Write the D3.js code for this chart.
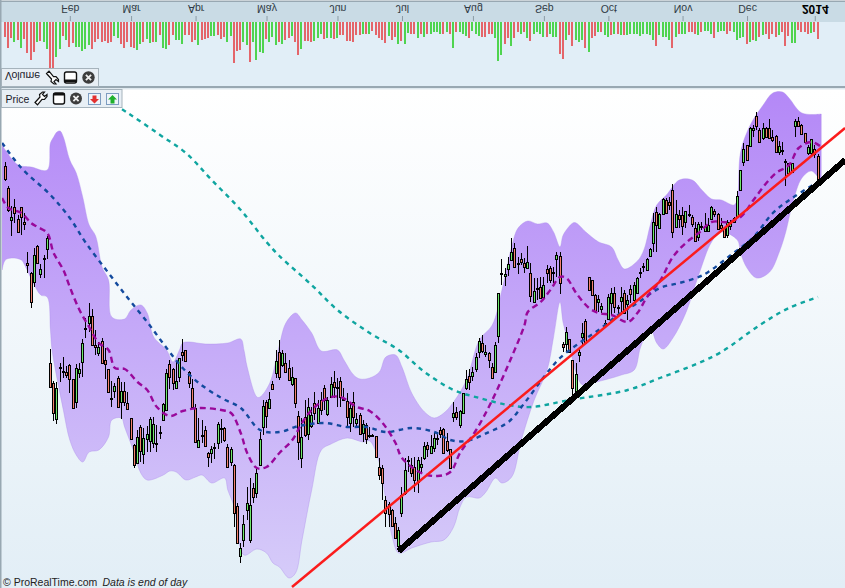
<!DOCTYPE html>
<html>
<head>
<meta charset="utf-8">
<script src="https://cdn.jsdelivr.net/npm/d3@7"></script>
<style>
    html, body { margin: 0; padding: 0; background: #fff; overflow: hidden; }
    text { font-family: "Liberation Sans", Arial, sans-serif; }
</style>
</head>
<body>
<div id="chart"></div>
<script>
// candles, one entry per session
const opens = [
    422,400,368,381,369,381,366,325,315,306, 342,314,330,339,225,205,169,221,217,216,
    223,209,186,215,226,260,265,272,243,235, 247,228,219,190,197,210,186,197,185,170,
    143,125,161,134,149,147,145,145,156,168, 178,224,219,200,211,236,238,216,200,180,
    141,153,158,135,135,140,145,160,160,141, 126,123,82,32,48,78,48,100,95,123,
    161,186,180,204,215,236,223,225,220,204, 210,172,130,171,154,162,185,165,188,200,
    174,191,206,201,207,189,187,165,186,165, 173,155,163,153,153,152,121,120,88,84,
    78,65,42,75,95,128,123,121,106,121, 130,143,135,140,150,158,159,147,139,171,
    176,163,175,200,212,212,219,236,245,234, 235,221,216,252,315,312,319,328,340,325,
    329,325,320,315,286,300,301,291,319,320, 316,329,332,244,244,249,228,195,233,251,
    267,311,308,293,286,279,265,269,285,295, 280,287,295,284,299,288,295,315,321,318,
    332,345,376,360,374,388,386,398,361,373, 373,366,374,371,360,351,362,357,357,369,
    377,374,363,360,353,362,370,371,398,426, 443,442,458,472,458,450,460,460,451,452,
    436,438,427,415,416,462,467,463,455,435, 435,439,432]
const closes = [
    409,378,371,375,356,371,364,323,286,333, 325,319,329,350,201,175,200,220,217,213,
    209,180,220,219,245,259,272,243,241,241, 225,224,196,189,202,181,197,186,179,149,
    123,151,137,150,154,169,164,145,156,184, 215,211,205,207,230,233,227,205,181,146,
    148,153,142,131,139,141,164,159,148,121, 139,75,45,40,64,85,83,91,115,149,
    182,172,189,199,227,211,235,216,208,211, 185,146,151,153,181,173,175,180,178,188,
    188,204,201,201,191,189,171,180,171,169, 154,164,149,153,153,131,113,105,75,74,
    62,50,58,93,118,128,115,108,128,124, 142,139,142,150,150,154,135,138,120,175,
    171,177,195,209,206,216,231,247,237,236, 228,210,243,295,314,314,324,336,321,324,
    326,321,326,292,297,299,290,303,315,308, 316,333,305,241,256,236,200,214,236,255,
    245,298,293,277,289,282,265,291,295,281, 281,291,275,288,294,303,310,316,322,329,
    339,366,363,374,389,375,383,356,374,369, 362,377,373,364,347,364,361,362,363,381,
    374,359,360,351,366,366,366,392,418,439, 428,460,460,462,446,460,451,450,448,436,
    442,438,427,425,425,467,462,454,446,441, 449,434,408]
const highs = [
    426,402,382,389,373,381,375,336,316,340, 343,324,333,352,239,207,206,225,231,222,
    224,209,224,225,249,270,285,279,258,246, 250,240,219,207,205,212,206,206,196,170,
    144,158,163,160,162,171,171,163,162,185, 219,228,220,226,230,249,238,217,209,184,
    170,168,162,136,142,145,166,169,161,144, 141,124,85,45,73,101,110,105,120,156,
    188,188,196,207,238,248,238,235,228,221, 210,177,170,188,190,181,196,188,196,203,
    191,211,217,210,211,200,195,185,196,175, 175,168,165,161,154,152,130,123,92,86,
    79,71,61,101,130,132,130,131,131,131, 146,146,153,155,156,161,160,155,139,186,
    181,178,195,218,219,221,235,250,253,243, 236,225,246,295,329,320,331,350,345,331,
    335,330,342,325,310,310,311,311,323,322, 321,336,336,246,261,249,228,225,241,265,
    269,311,308,294,293,285,268,294,300,301, 283,301,298,293,303,306,311,320,325,330,
    340,375,381,375,390,390,391,404,388,378, 381,377,383,373,366,366,366,375,370,382,
    379,375,370,361,368,368,371,397,418,445, 443,461,463,476,460,465,461,469,458,453,
    447,446,429,425,425,469,471,464,455,443, 449,443,434]
const lows = [
    407,376,352,365,355,353,358,315,280,301, 324,310,310,329,200,167,164,206,210,210,
    195,180,180,210,211,250,256,242,233,232, 224,209,196,181,190,180,169,182,178,148,
    120,124,126,124,136,136,140,136,149,167, 177,199,198,200,206,227,226,200,180,145,
    140,145,141,121,125,129,139,145,146,121, 122,61,44,25,41,68,45,85,90,122,
    153,160,179,198,210,208,221,215,207,202, 180,128,120,151,148,160,168,165,173,178,
    172,190,190,181,181,187,160,156,161,160, 153,146,144,150,152,130,108,88,61,61,
    61,49,36,71,93,116,111,96,95,115, 128,131,135,136,143,150,135,136,119,166,
    168,160,175,198,198,207,216,230,235,231, 220,209,215,245,303,302,312,327,320,314,
    323,315,320,286,285,288,289,290,305,305, 305,311,294,236,236,236,191,194,226,241,
    244,297,292,276,276,275,260,268,273,275, 273,276,274,268,285,286,294,310,316,317,
    331,336,336,360,373,374,378,350,360,360, 353,360,371,361,346,347,358,356,356,368,
    371,358,358,350,350,358,365,370,397,422, 427,441,451,458,445,448,450,450,446,435,
    433,433,402,415,415,451,461,453,446,433, 433,430,407]

// volume panel, R = down day, G = up day
const volumes = [
    15,26,16,20,18,26,17,31,38,30, 20,19,20,27,47,47,35,27,14,18,
    25,21,25,25,29,27,23,27,20,17, 20,19,21,20,14,16,22,26,20,25,
    26,28,22,20,17,21,20,20,13,26, 27,23,13,18,18,22,13,13,20,18,
    23,18,17,16,14,14,13,17,15,20, 14,41,29,28,20,23,40,20,38,30,
    31,17,20,15,23,20,22,18,16,14, 20,33,27,19,19,20,19,16,12,17,
    16,16,17,16,13,13,19,19,20,13, 13,12,12,12,9,13,16,18,21,14,
    18,15,22,19,22,11,12,12,16,12, 15,12,12,10,10,12,12,10,12,26,
    10,10,12,14,16,9,12,14,15,15, 12,12,16,39,33,22,16,24,16,10,
    12,10,16,19,12,10,12,15,15,12, 15,15,32,37,18,13,24,18,20,18,
    26,30,16,14,10,10,13,15,13,12, 12,13,13,13,12,12,12,14,12,12,
    13,18,24,13,15,15,18,26,15,12, 12,12,10,10,12,13,10,9,9,12,
    16,10,9,9,12,9,10,18,16,15, 22,20,18,19,15,13,12,17,12,15,
    13,10,24,14,21,21,8,10,10,12, 11,10,17]
const volumeDirs = ("RRRGRGRRRR" + "GRGGRRGGRG" + "RRGGGGGRRR" + "RRRRGGRRRR" + "RGGRGGRGRG" +
    "GRRGGGRRRR" + "GRRRGGRRRG" + "GRRRGGRGGG" + "GRGGGRGRRG" + "RRGRRRGGGR" +
    "GGRGRRRRRR" + "RGRGRRRRRG" + "RRGRGGRRGR" + "GRGGGGRGRG" + "RGGGRGGGRR" +
    "RRGGGRRGRR" + "GRGRGGGGRG" + "GGRRGRRGGG" + "RGRRGRGGRG" + "RGRGGGGGGG" +
    "GGRGGGGRGR" + "GGRRRGRGGG" + "RGGGRRGGGG" + "RGRGRGRRRR" + "GRRRGGRRRR" + "GRR").split("")

const monthBars = [20, 39, 59, 81, 103, 123, 145, 167, 187, 210, 230, 251]
const monthLabels = ["Feb", "Mar", "Apr", "May", "Jun", "Jul", "Aug", "Sep", "Oct", "Nov", "Dec", "2014"]

// Bollinger style envelope, read at the bends
const upperBars = [-1,0,4,8,13,14,15,16,17,18,20,22,24,26,28,30,32,33,37,39,42,44,46,50,52,54,55,57,62,69,73,74,75,78,79,82,85,87,90,92,95,98,103,105,108,110,113,116,118,121,123,126,130,133,136,139,143,147,151,154,157,159,162,165,168,170,172,173,176,177,180,184,188,190,192,196,198,200,202,205,209,213,216,219,222,226,227,228,231,235,238,241,243,247,253]
const upperBand = [443,438,423,421,418,445,451,456,457,451,428,415,391,363,352,321,308,271,269,278,283,275,251,238,226,238,245,246,244,245,249,238,221,191,191,205,243,265,275,268,255,237,238,228,213,209,210,216,231,233,221,195,176,170,175,186,208,248,263,298,341,360,367,364,365,356,341,353,365,365,356,346,341,328,319,327,338,363,383,393,408,408,398,389,388,383,390,436,463,483,495,496,490,475,474]
const lowerBars = [-1,0,2,5,6,9,11,13,14,14.5,18,20,22,24,26,29,32,33,36,37,40,42,44,49,51,53,56,59,61,64,68,69,71,74,78,81,83,85,88,90,92,95,98,101,106,111,113,116,118,120,122,126,132,136,139,141,143,147,149,152,154,157,160,164,168,170,172,173,175,177,179,182,188,191,195,197,200,202,204,207,211,215,219,222,227,228,230,233,237,240,242,244,247,250,253]
const lowerBand = [318,328,330,328,323,303,293,291,258,238,178,148,133,126,136,138,151,168,170,161,135,115,108,113,117,116,108,111,113,105,110,98,81,33,39,35,25,21,10,15,48,98,138,144,150,146,147,125,88,51,35,40,46,48,61,81,91,90,96,110,105,111,148,188,218,251,286,265,241,215,203,205,210,213,218,241,260,245,239,250,275,313,346,356,348,335,320,310,316,336,356,383,410,417,406]

// moving averages
const fastBars = [-1,1,5,8,10,13,15,18,20,23,26,29,32,34,37,41,44,47,51,55,60,67,70,73,75,78,81,85,89,92,95,100,104,109,113,117,121,123,129,134,138,141,146,151,157,161,162,166,169,172,174,177,181,184,188,193,196,199,203,207,211,215,219,224,228,232,236,239,243,246,250,253]
const fastAverage = [390,380,375,365,361,355,335,318,301,278,261,245,238,220,219,206,198,181,172,177,180,178,175,155,135,120,121,135,148,165,178,190,191,181,177,165,145,130,115,112,116,135,158,188,231,263,276,286,298,311,310,295,280,275,273,266,275,291,307,331,345,355,366,366,371,388,405,415,423,440,446,441]
const midBars = [-1,5,14,20,25,32,38,44,50,55,60,67,73,79,85,91,99,106,112,118,126,133,138,143,150,156,161,167,172,178,184,190,196,203,209,215,218,225,232,238,244,252]
const midAverage = [445,420,393,370,345,315,290,266,240,220,205,190,180,158,156,162,165,161,161,156,160,156,148,147,156,166,185,211,230,245,258,273,285,300,305,311,316,333,351,375,390,406]
const slowBars = [29,38,48,56,64,73,81,85,95,103,113,122,130,139,147,156,163,175,193,203,215,222,234,243,252]
const slowAverage = [493,475,453,435,408,378,346,332,303,278,255,238,216,198,190,183,181,188,198,210,225,236,263,280,291]

// hand drawn trend lines, [bar, price] at each end
const redTrendBars = [88.9, 260.4]
const redTrendPrices = [1, 460]
const blackTrendBars = [122, 260.4]
const blackTrendPrices = [37, 428]

const width = 845, height = 588

const svg = d3.select("#chart")
    .append("svg")
    .attr("width", width)
    .attr("height", height)
    .style("display", "block")

const defs = svg.append("defs")

const bg = defs.append("linearGradient")
    .attr("id", "priceBg")
    .attr("gradientUnits", "userSpaceOnUse")
    .attr("x1", 0).attr("x2", 0).attr("y1", 90).attr("y2", 588)
bg.append("stop").attr("offset", 0).attr("stop-color", "#ffffff")
bg.append("stop").attr("offset", 1).attr("stop-color", "#e2eef6")

const bandFill = defs.append("linearGradient")
    .attr("id", "bandFill")
    .attr("gradientUnits", "userSpaceOnUse")
    .attr("x1", 0).attr("x2", 0).attr("y1", 90).attr("y2", 585)
bandFill.append("stop").attr("offset", 0).attr("stop-color", "#b488f7")
bandFill.append("stop").attr("offset", 1).attr("stop-color", "#d6ccf9")

defs.append("clipPath")
    .attr("id", "priceClip")
    .append("rect")
    .attr("x", 2).attr("y", 90).attr("width", width - 2).attr("height", height - 90)

// scales
const x = d3.scaleLinear().domain([0, 252]).range([5.3, 818])
const yPrice = d3.scaleLinear().domain([0, 500]).range([588, 88])
const yVolume = d3.scaleLinear().domain([0, 64]).range([22, 86])

// panel backgrounds
svg.append("rect").attr("width", width).attr("height", height).attr("fill", "#fff")
svg.append("rect").attr("x", 0).attr("y", 2).attr("width", width).attr("height", 20).attr("fill", "#c9dbe5")
svg.append("rect").attr("x", 0).attr("y", 22).attr("width", width).attr("height", 64).attr("fill", "#e1eef7")
svg.append("rect").attr("x", 0).attr("y", 0.5).attr("width", width).attr("height", 1.5).attr("fill", "#98a8b2")
svg.append("rect").attr("x", 0).attr("y", 86).attr("width", width).attr("height", 2).attr("fill", "#98a8b2")
svg.append("rect").attr("x", 0).attr("y", 88).attr("width", width).attr("height", 1.5).attr("fill", "#dfe9ef")
svg.append("rect").attr("x", 0).attr("y", 90).attr("width", width).attr("height", height - 90).attr("fill", "url(#priceBg)")

// month axis, the whole top panel is drawn upside down
const monthAxis = d3.axisBottom(x)
    .tickValues(monthBars)
    .tickSize(5)
    .tickSizeOuter(0)
    .tickFormat(function (d, i) { return monthLabels[i] })

const axisG = svg.append("g")
    .attr("transform", "translate(0,21) scale(1,-1)")
    .call(monthAxis)
axisG.select(".domain").remove()
axisG.selectAll(".tick line").attr("stroke", "#8c9ba5")
axisG.selectAll(".tick text")
    .attr("y", 16)
    .attr("dy", 0)
    .attr("fill", function (d) { return d == 251 ? "#000" : "#2f3a44" })
    .attr("font-size", function (d) { return d == 251 ? 12 : 10.5 })
    .attr("font-weight", function (d) { return d == 251 ? "bold" : null })

// volume bars
svg.append("g")
    .selectAll("rect")
    .data(volumes)
    .enter()
    .append("rect")
    .attr("x", function (d, i) { return Math.floor(x(i)) - 1 })
    .attr("y", yVolume(0))
    .attr("width", 2)
    .attr("height", function (d) { return yVolume(d) - yVolume(0) })
    .attr("fill", function (d, i) { return volumeDirs[i] == "G" ? "#4fd44f" : "#e4656a" })

const plot = svg.append("g").attr("clip-path", "url(#priceClip)")

// envelope
const curve = d3.curveCatmullRom.alpha(0.5)
const bandLine = d3.line()
    .x(function (d) { return x(d[0]) })
    .y(function (d) { return yPrice(d[1]) })
    .curve(curve)

const upperPts = d3.zip(upperBars, upperBand)
const lowerPts = d3.zip(lowerBars, lowerBand).reverse()

plot.append("path")
    .attr("d", bandLine(upperPts) + "L" + bandLine(lowerPts).slice(1) + "Z")
    .attr("fill", "url(#bandFill)")
    .attr("stroke", "#ad8cec")
    .attr("stroke-opacity", 0.5)
    .attr("stroke-width", 0.8)

// candles
const candles = plot.append("g")
    .selectAll("g")
    .data(opens)
    .enter()
    .append("g")
    .attr("shape-rendering", "crispEdges")

function cx(i) { return Math.floor(x(i)) + 0.5 }

candles.append("line")
    .attr("x1", function (d, i) { return cx(i) })
    .attr("x2", function (d, i) { return cx(i) })
    .attr("y1", function (d, i) { return yPrice(highs[i]) })
    .attr("y2", function (d, i) { return yPrice(lows[i]) })
    .attr("stroke", "#000")

candles.append("rect")
    .attr("x", function (d, i) { return cx(i) - 1 })
    .attr("y", function (d, i) { return Math.round(yPrice(Math.max(opens[i], closes[i]))) + 0.5 })
    .attr("width", 2)
    .attr("height", function (d, i) { return Math.max(1, Math.abs(opens[i] - closes[i])) })
    .attr("fill", function (d, i) { return closes[i] >= opens[i] ? "#6fe86c" : "#f4826f" })
    .attr("stroke", "#000")

// moving averages
function drawAverage(bars, values, color, dash) {
    plot.append("path")
        .attr("d", bandLine(d3.zip(bars, values)))
        .attr("fill", "none")
        .attr("stroke", color)
        .attr("stroke-width", 2.4)
        .attr("stroke-dasharray", dash)
}
drawAverage(slowBars, slowAverage, "#0fa5a0", "4.5 4.5")
drawAverage(midBars, midAverage, "#134a9e", "4.5 4.5")
drawAverage(fastBars, fastAverage, "#99089b", "6 4")

// trend lines
const trendLine = d3.line()
    .x(function (d) { return x(d[0]) })
    .y(function (d) { return yPrice(d[1]) })

plot.append("path")
    .attr("d", trendLine(d3.zip(redTrendBars, redTrendPrices)))
    .attr("stroke", "#fb1c1c")
    .attr("stroke-width", 2.5)
    .attr("fill", "none")

plot.append("path")
    .attr("d", trendLine(d3.zip(blackTrendBars, blackTrendPrices)))
    .attr("stroke", "#000")
    .attr("stroke-width", 6)
    .attr("fill", "none")
    .attr("shape-rendering", "crispEdges")

// left frame
svg.append("rect").attr("x", 0).attr("y", 0).attr("width", 1.5).attr("height", height).attr("fill", "#98a8b2")

// legend boxes with their little icons
function wrench(g, tx, ty, flip) {
    const w = g.append("g").attr("transform", `translate(${tx},${ty}) scale(1,${flip ? -1 : 1})`)
    w.append("path")
        .attr("d", "M-6,4 L-1,-1.5 L-1.5,-4 L1.5,-6.5 L3.5,-6.5 L1.5,-4 L3.5,-2 L6,-4 L6,-2 L3.5,1 L1,0.8 L-3.5,6.3 Z")
        .attr("fill", "#fff")
        .attr("stroke", "#111")
        .attr("stroke-width", 1.2)
}

function windowIcon(g, tx, ty, w, h, barY) {
    g.append("rect")
        .attr("x", tx).attr("y", ty).attr("width", w).attr("height", h).attr("rx", 2)
        .attr("fill", "#fff").attr("stroke", "#111").attr("stroke-width", 1.4)
    g.append("rect")
        .attr("x", tx).attr("y", barY).attr("width", w).attr("height", 2.5)
        .attr("fill", "#111")
}

function closeIcon(g, cxv, cyv, r) {
    g.append("circle").attr("cx", cxv).attr("cy", cyv).attr("r", r).attr("fill", "#3d3d3d")
    g.append("path")
        .attr("d", `M${cxv - 2.6},${cyv - 2.6} L${cxv + 2.6},${cyv + 2.6} M${cxv - 2.6},${cyv + 2.6} L${cxv + 2.6},${cyv - 2.6}`)
        .attr("stroke", "#eee")
        .attr("stroke-width", 1.8)
}

function arrowDoc(g, tx, ty, color, up) {
    g.append("rect")
        .attr("x", tx).attr("y", ty).attr("width", 12).attr("height", 11)
        .attr("fill", "#eef4fa").attr("stroke", "#7d9cc0")
    const a = up
        ? `M${tx + 6},${ty + 1.5} L${tx + 10.5},${ty + 6} L${tx + 8},${ty + 6} L${tx + 8},${ty + 10} L${tx + 4},${ty + 10} L${tx + 4},${ty + 6} L${tx + 1.5},${ty + 6} Z`
        : `M${tx + 6},${ty + 10} L${tx + 10.5},${ty + 5.5} L${tx + 8},${ty + 5.5} L${tx + 8},${ty + 2} L${tx + 4},${ty + 2} L${tx + 4},${ty + 5.5} L${tx + 1.5},${ty + 5.5} Z`
    g.append("path").attr("d", a).attr("fill", color)
}

const volBox = svg.append("g")
volBox.append("rect")
    .attr("x", 1.5).attr("y", 68.5).attr("width", 97).attr("height", 18)
    .attr("fill", "#e8eff5").attr("stroke", "#a6b3bc")
volBox.append("text")
    .attr("transform", "translate(5,72) scale(1,-1)")
    .attr("font-size", 10.5)
    .attr("fill", "#1a1a2a")
    .text("Volume")
wrench(volBox, 52.5, 77.5, true)
windowIcon(volBox, 64.5, 72, 12, 11, 79.5)
closeIcon(volBox, 88.5, 77.5, 6.2)

const priceBox = svg.append("g")
priceBox.append("rect")
    .attr("x", 1.5).attr("y", 89.5).attr("width", 120.5).attr("height", 18)
    .attr("fill", "#e8eff5").attr("stroke", "#a6b3bc")
priceBox.append("text")
    .attr("x", 5.5).attr("y", 102.5)
    .attr("font-size", 10.5)
    .attr("fill", "#1a1a2a")
    .text("Price")
wrench(priceBox, 41, 98.5, false)
windowIcon(priceBox, 53.5, 93, 11, 11, 93)
closeIcon(priceBox, 76, 98.5, 6)
arrowDoc(priceBox, 88.5, 93.5, "#e23030", false)
arrowDoc(priceBox, 106.5, 93.5, "#1fb02c", true)

// footer
svg.append("text")
    .attr("x", 3).attr("y", 586)
    .attr("font-size", 10.5)
    .attr("fill", "#222")
    .text("© ProRealTime.com")
svg.append("text")
    .attr("x", 102.5).attr("y", 586)
    .attr("font-size", 10.5)
    .attr("font-style", "italic")
    .attr("fill", "#222")
    .text("Data is end of day")
</script>
</body>
</html>
